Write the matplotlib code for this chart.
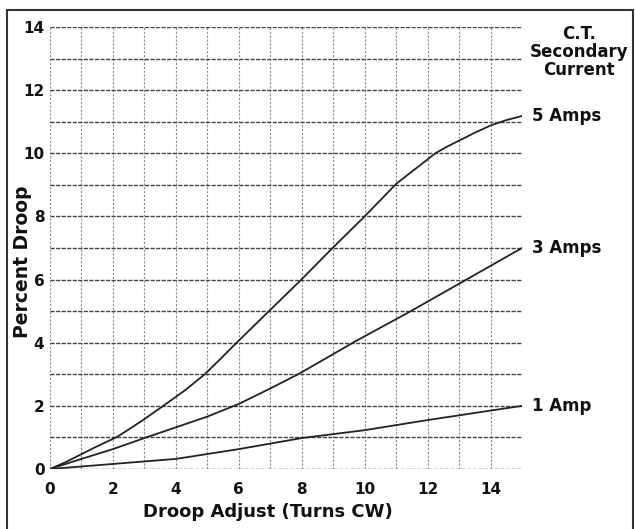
import matplotlib
matplotlib.use("Agg")
import matplotlib.pyplot as plt
import numpy as np
from matplotlib.patches import Rectangle

plt.rcParams['font.family'] = ['DejaVu Sans']

x_5a = [0, 0.5, 1, 1.5, 2.1, 2.5, 3, 3.6, 4.3, 4.92, 5.4, 5.93, 6.96, 7.99, 8.98, 10.0, 11.0,
        11.5, 11.8, 12.25, 12.6, 13, 13.5, 14, 14.5, 15]
y_5a = [0, 0.22, 0.47, 0.72, 1, 1.25, 1.58, 2, 2.5, 3, 3.47, 4, 5, 6, 7, 8, 9.03,
        9.42, 9.65, 10.0, 10.2, 10.4, 10.65, 10.88, 11.05, 11.18]
x_3a = [0, 1, 2, 3, 4, 5, 6, 7, 7.94, 9.68, 11.43, 13.2, 15]
y_3a = [0, 0.32, 0.63, 0.98, 1.32, 1.66, 2.06, 2.55, 3.03, 4.03, 4.98, 5.98, 7.0]
x_1a = [0, 2, 4, 6, 8, 10, 12, 13, 15]
y_1a = [0, 0.16, 0.32, 0.63, 0.98, 1.23, 1.55, 1.7, 2.0]
labels = ["5 Amps", "3 Amps", "1 Amp"]

fig = plt.figure(figsize=(6.35, 5.29), dpi=100)
ax = fig.add_axes([0.0787, 0.1134, 0.822 - 0.0787, 0.949 - 0.1134])

for xx in range(0, 16):
    ax.axvline(xx, color="#8a8a8a", lw=0.8, ls=(0, (2, 1.5)), zorder=1)
for yy in range(0, 15):
    ax.axhline(yy, color="#444444", lw=1.0, ls=(0, (3, 1)), zorder=1)

for xs, ys, lab in zip([x_5a, x_3a, x_1a], [y_5a, y_3a, y_1a], labels):
    ax.plot(xs, ys, color="#222222", lw=1.3, zorder=3)
    ax.text(15.32, ys[-1], lab, fontsize=12, fontweight="bold", color="#111111",
            ha="left", va="center", clip_on=False)

ax.text(16.8, 14.07, "C.T.\nSecondary\nCurrent", fontsize=12, fontweight="bold",
        color="#111111", ha="center", va="top", linespacing=1.0, clip_on=False)

ax.set_xlim(0, 15)
ax.set_ylim(0, 14)
ax.set_xticks(range(0, 15, 2))
ax.set_yticks(range(0, 15, 2))
ax.tick_params(axis="y", length=0, labelsize=11, pad=4, colors="#111111")
ax.tick_params(axis="x", length=0, labelsize=11, pad=9, colors="#111111")
for t in ax.get_xticklabels() + ax.get_yticklabels():
    t.set_fontweight("bold")
for s in ax.spines.values():
    s.set_visible(False)

ax.set_xlabel("Droop Adjust (Turns CW)", fontsize=13, fontweight="bold", color="#111111")
ax.set_ylabel("Percent Droop", fontsize=13.5, fontweight="bold", color="#111111")
ax.xaxis.set_label_coords(0.462, -0.097)
ax.yaxis.set_label_coords(-0.059, 0.468)
ax.xaxis.label.set_va("center")
ax.yaxis.label.set_va("center")

fig.patches.append(Rectangle((7 / 635, -0.05), (633 - 7) / 635, 1.05 - 10 / 529,
                             transform=fig.transFigure, fill=False, lw=1.5,
                             edgecolor="#333333"))

fig.savefig("out.png", dpi=100)
